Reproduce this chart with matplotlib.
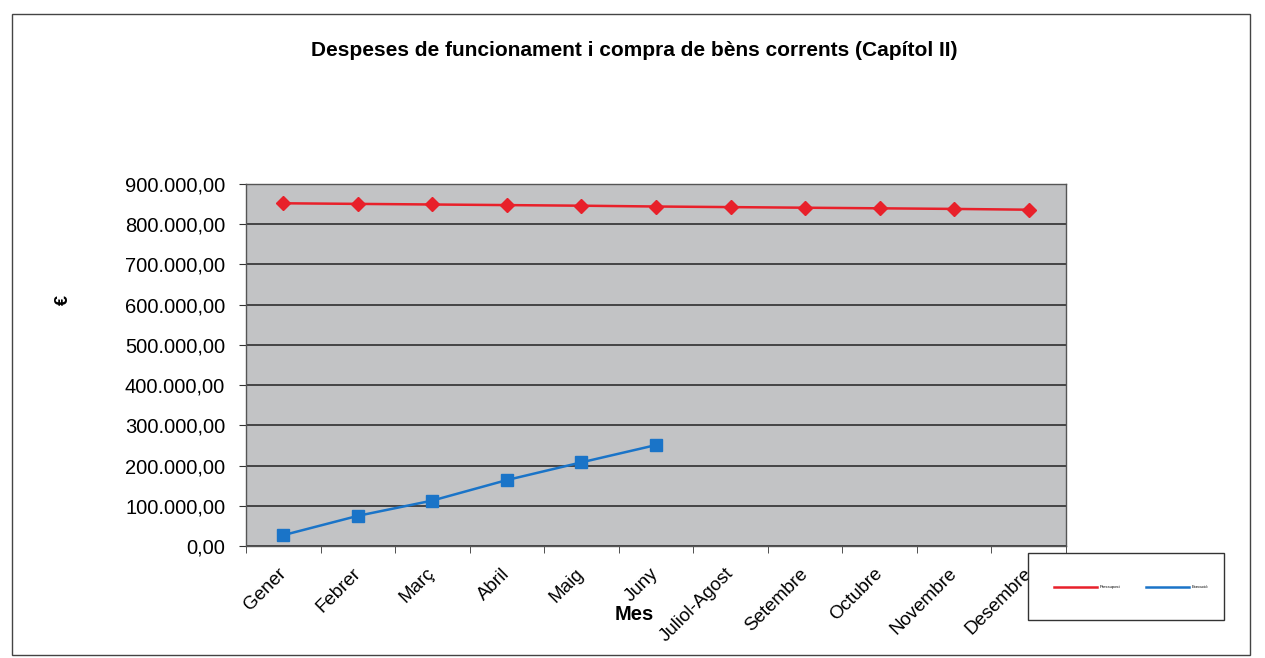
import matplotlib
matplotlib.use("Agg")
import matplotlib.pyplot as plt
from matplotlib.patches import Rectangle
from matplotlib.ticker import FuncFormatter, MultipleLocator, FixedLocator
import numpy as np

plt.rcParams['font.family'] = ['Liberation Sans', 'DejaVu Sans']

months = ["Gener", "Febrer", "Març", "Abril", "Maig", "Juny", "Juliol-Agost",
          "Setembre", "Octubre", "Novembre", "Desembre"]
pressupost = [852000, 850500, 849000, 847500, 846000, 844000, 842500,
              841000, 839500, 838000, 836000]
execucio = [27000, 75000, 113000, 164000, 208000, 251000]
series_names = ["Pressupost", "Execució"]

fig = plt.figure(figsize=(12.65, 6.58), dpi=100)
fig.patch.set_facecolor("white")
ax = fig.add_axes([0.1945, 0.1702, 0.6482, 0.5502])
ax.set_facecolor("#c2c3c5")

x = np.arange(len(months))
ax.plot(x, pressupost, color="#e8202a", lw=1.8, marker="D", ms=7,
        label=series_names[0], zorder=3)
ax.plot(x[:len(execucio)], execucio, color="#1a74c8", lw=1.8, marker="s", ms=9,
        label=series_names[1], zorder=3)

ax.set_xlim(-0.5, len(months) - 0.5)
ax.set_ylim(0, 900000)
ax.yaxis.set_major_locator(MultipleLocator(100000))
ax.yaxis.set_major_formatter(FuncFormatter(
    lambda v, p: f"{v:,.2f}".replace(",", "X").replace(".", ",").replace("X", ".")))
ax.grid(axis="y", color="#222222", lw=1.1, zorder=1)
ax.set_axisbelow(True)

ax.set_xticks(x)
ax.set_xticklabels(months, rotation=45, ha="right", va="center",
                   rotation_mode="anchor", fontsize=13.5)
ax.xaxis.set_minor_locator(FixedLocator(np.arange(-0.5, len(months), 1.0)))
ax.tick_params(axis="x", which="major", length=0, pad=18)
ax.tick_params(axis="x", which="minor", length=5, color="#333333")
ax.tick_params(axis="y", labelsize=14.5, length=5, color="#333333", pad=10)

for s in ax.spines.values():
    s.set_color("#555555")
    s.set_linewidth(1.0)

ax.set_ylabel("€", fontsize=13, fontweight="bold")
ax.yaxis.set_label_coords(-0.212, 0.68)
ax.set_xlabel("Mes", fontsize=14.5, fontweight="bold")
ax.xaxis.set_label_coords(0.474, -0.163)

fig.text(0.501, 0.924, "Despeses de funcionament i compra de bèns corrents (Capítol II)",
         ha="center", va="center", fontsize=15, fontweight="bold")

# legend box
fig.patches.append(Rectangle((1028/1265, 1 - 620/658), 196/1265, 67/658,
                             transform=fig.transFigure, facecolor="white",
                             edgecolor="#333333", lw=1.0, zorder=5))
leg = fig.legend(loc="center", bbox_to_anchor=(1131/1265, 1 - 587/658),
                 ncol=2, fontsize=3, frameon=False,
                 handlelength=10.3, handletextpad=0.8, columnspacing=6,
                 borderaxespad=0, borderpad=0)
leg.set_zorder(6)
for h in leg.legend_handles:
    h.set_marker("")

fig.patches.append(Rectangle((12/1265, 1 - 655/658), 1238/1265, 641/658,
                             transform=fig.transFigure, fill=False,
                             edgecolor="#444444", lw=1.0))

fig.savefig("out.png", dpi=100)
